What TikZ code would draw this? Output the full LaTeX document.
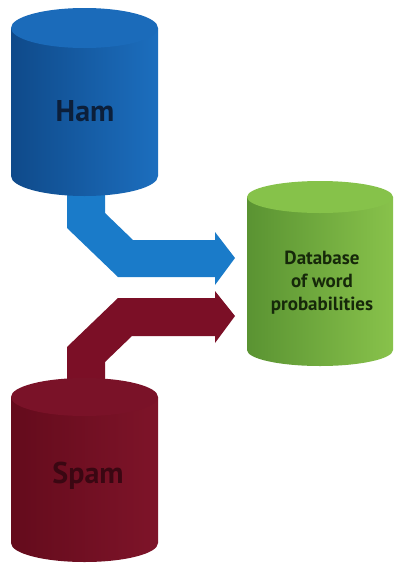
\documentclass[tikz,border=0pt]{standalone}
\usepackage{fontspec}
\setmainfont{PT Sans}
\begin{document}
\definecolor{hamdark}{HTML}{0F4A8A}
\definecolor{hammid}{HTML}{1762AA}
\definecolor{hamlight}{HTML}{1C6EBE}
\definecolor{hamtop}{HTML}{1B6BBA}
\definecolor{hamtext}{HTML}{0C1F3A}
\definecolor{spamdark}{HTML}{640B1C}
\definecolor{spammid}{HTML}{771126}
\definecolor{spamlight}{HTML}{7E1429}
\definecolor{spamtop}{HTML}{7A1228}
\definecolor{spamtext}{HTML}{3A0712}
\definecolor{dbdark}{HTML}{5A9332}
\definecolor{dbmid}{HTML}{76AF3E}
\definecolor{dblight}{HTML}{88C24B}
\definecolor{dbtop}{HTML}{86C24A}
\definecolor{dbtext}{HTML}{16280A}
\definecolor{arrowblue}{HTML}{1A7BC9}
\definecolor{arrowred}{HTML}{7B0F26}
\tikzset{
  bigtext/.style={font=\bfseries\fontsize{30}{33}\selectfont, inner sep=0pt},
  smalltext/.style={font=\bfseries\fontsize{19}{23}\selectfont, align=center, inner sep=0pt},
  blockarrow/.style={draw=none},
}
% cylinder: #1 left x, #2 right x, #3 top centre y, #4 bottom centre y, #5 radius y, #6 colour prefix
\newcommand{\drumshape}[6]{%
  \pgfmathsetmacro{\rx}{(#2-#1)/2}%
  \shade[left color=#6dark, middle color=#6mid, right color=#6light]
    (#1,#3) -- (#1,#4) arc[start angle=180, end angle=0, x radius=\rx, y radius=#5]
    -- (#2,#3) -- cycle;
  \fill[#6top] ({(#1+#2)/2},#3) ellipse[x radius=\rx, y radius=#5];
}
\begin{tikzpicture}[x=1pt,y=-1pt]
\useasboundingbox (0,0) rectangle (395,563);
\fill[white] (0,0) rectangle (395,563);

% bent block arrows (drawn first so the tails run behind the cylinders)
\fill[arrowblue, blockarrow]
  (67,190) -- (105,190) -- (105,213) -- (133,240) -- (215,240) -- (215,232)
  -- (235,258) -- (215,285) -- (215,277) -- (118,277) -- (67,228) -- cycle;
\fill[arrowred, blockarrow]
  (67,380) -- (105,380) -- (105,362) -- (132,336) -- (215,336) -- (215,343)
  -- (235,316) -- (215,291) -- (215,298) -- (118,298) -- (67,347) -- cycle;

% cylinders
\drumshape{11}{158}{28}{176}{20}{ham}
\drumshape{11}{158}{397}{543}{19}{spam}
\drumshape{247}{393}{197}{350}{16}{db}

% labels
\node[bigtext, text=hamtext] (ham) at (85,111) {Ham};
\node[bigtext, text=spamtext] (spam) at (88,476) {Spam};
\node[smalltext, text=dbtext] (db) at (322,283) {Database\\of word\\probabilities};
\end{tikzpicture}
\end{document}
